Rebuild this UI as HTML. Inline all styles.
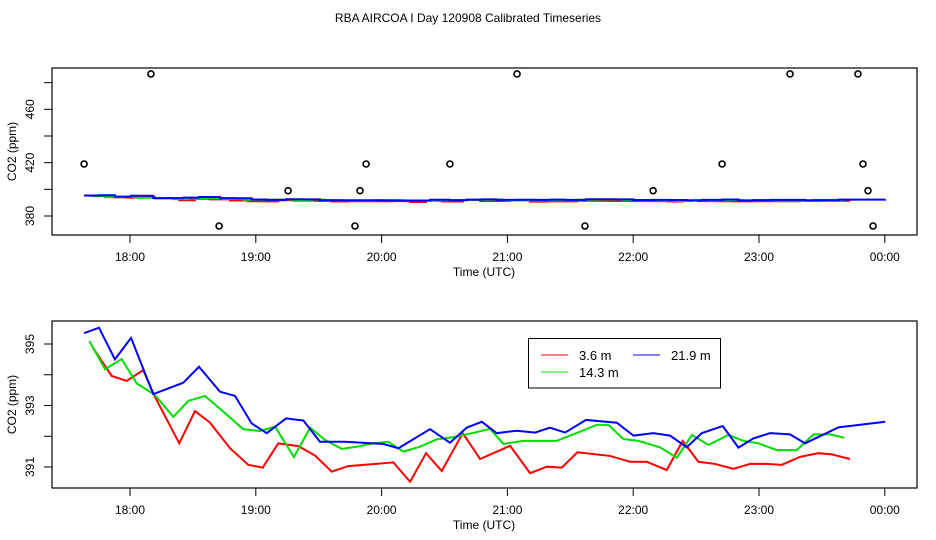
<!DOCTYPE html>
<html><head><meta charset="utf-8"><style>
html,body{margin:0;padding:0;background:#fff;}
svg{display:block;font-family:"Liberation Sans",sans-serif;}
</style></head><body>
<svg id="chart" width="936" height="540" viewBox="0 0 936 540">
<text x="468" y="22" font-size="12" text-anchor="middle">RBA AIRCOA I  Day 120908  Calibrated Timeseries</text>
<g id="top"></g>
<g id="bot"></g>
</svg>
<script>
// minutes after 18:00
const redT=[-17.5,-8.7,-1.6,6.3,11.9,23.5,31.0,38.2,47.7,56.4,63.3,70.7,80.3,88.3,96.2,104.1,125.6,133.6,141.2,148.7,158.7,167.0,181.3,190.8,198.8,205.9,213.4,229.0,238.5,246.5,256.0,263.6,271.1,279.0,287.8,295.7,303.7,310.9,319.6,328.3,334.7,343.4];
const redV=[394.86,393.96,393.80,394.15,393.28,391.77,392.82,392.44,391.61,391.07,390.98,391.77,391.68,391.37,390.85,391.03,391.15,390.52,391.45,390.87,392.10,391.26,391.69,390.80,391.01,390.98,391.48,391.36,391.17,391.17,390.90,391.85,391.17,391.10,390.94,391.10,391.10,391.07,391.33,391.45,391.41,391.26];
const greenT=[-19.4,-11.9,-4.0,3.2,11.9,20.7,27.8,35.8,44.5,54.0,62.0,69.2,78.2,85.9,93.0,101.0,108.1,116.1,123.2,130.4,138.3,146.3,154.2,163.0,171.7,178.1,187.6,203.5,214.7,222.6,228.2,235.3,242.5,252.8,260.8,268.0,275.9,285.4,292.6,299.7,308.5,318.0,326.0,333.9,340.7];
const greenV=[395.10,394.18,394.51,393.72,393.34,392.63,393.15,393.31,392.80,392.23,392.17,392.31,391.32,392.28,391.88,391.59,391.66,391.77,391.82,391.50,391.66,391.90,391.97,392.10,392.24,391.75,391.85,391.85,392.15,392.37,392.37,391.91,391.85,391.64,391.30,392.04,391.72,392.04,391.85,391.77,391.55,391.55,392.06,392.06,391.95];
const blueT=[-21.9,-14.8,-7.2,0.5,11.1,25.4,32.9,42.9,50.1,58.0,65.2,74.4,82.7,90.6,102.6,120.8,128,143.1,152.6,160.6,167.8,174.9,184.5,193.2,200.3,207.5,217.5,232.2,240.1,249.6,257.6,265.5,272.7,282.7,290.2,297.3,305.3,314.8,322,337.9,360.2];
const blueV=[395.35,395.53,394.50,395.20,393.37,393.74,394.26,393.45,393.31,392.42,392.10,392.58,392.51,391.82,391.82,391.75,391.61,392.23,391.79,392.28,392.47,392.10,392.18,392.12,392.28,392.12,392.53,392.44,392.02,392.10,392.02,391.64,392.10,392.33,391.63,391.93,392.10,392.06,391.77,392.29,392.47];
const outT=[-21.9,10,42.5,75.4,107.3,109.7,112.6,152.6,184.6,217,249.5,282.4,314.8,347.2,349.6,352,354.4];
const outV=[419,486.5,372.5,399,372.5,399,419,419,486.5,372.5,399,419,486.5,486.5,419,399,372.5];
const xTicks=[0,60,120,180,240,300,360];
const xLabels=["18:00","19:00","20:00","21:00","22:00","23:00","00:00"];
const topTicks=[380,400,420,440,460,480];
const topLabels=["380","","420","","460",""];
const botTicks=[391,392,393,394,395];
const botLabels=["391","","393","","395"];

const NS="http://www.w3.org/2000/svg";
function mk(tag,attrs,parent){const e=document.createElementNS(NS,tag);for(const k in attrs)e.setAttribute(k,attrs[k]);parent.appendChild(e);return e;}
const X=t=>130+t*125.8/60;
const Ytop=v=>216-(v-380)*26.67/20;
const Ybot=v=>467-(v-391)*30.75;

function panel(g,top,bot,ticks,labels,Y){
  const r=mk('rect',{x:52,y:top,width:865,height:bot-top,fill:'none',stroke:'#000','stroke-width':1.2},g);
  
  
  xTicks.forEach((t,i)=>{
    const l=mk('line',{x1:X(t),x2:X(t),y1:bot,y2:bot+8,stroke:'#000'},g);
    
    
    const tx=mk('text',{x:X(t),y:bot+26,'font-size':12,'text-anchor':'middle'},g);
    tx.textContent=xLabels[i];
    
    
  });
  ticks.forEach((v,i)=>{
    const l=mk('line',{x1:44,x2:52,y1:Y(v),y2:Y(v),stroke:'#000'},g);
    
    
    if(labels[i]){
      const tx=mk('text',{x:0,y:0,'font-size':12,'text-anchor':'middle',transform:`translate(34,${Y(v)}) rotate(-90)`},g);
      tx.textContent=labels[i];
      
      
    }
  });
  const xt=mk('text',{x:484,y:bot+41,'font-size':12,'text-anchor':'middle'},g);
  xt.textContent='Time (UTC)';
  
  
  const yt=mk('text',{x:0,y:0,'font-size':12,'text-anchor':'middle',transform:`translate(16,${(top+bot)/2}) rotate(-90)`},g);
  yt.textContent='CO2 (ppm)';
  
  
}
function line(g,T,V,Y,col,step,name){
  let d='';
  T.forEach((t,i)=>{
    if(i===0)d+=`M${X(t)},${Y(V[i])}`;
    else if(step)d+=`H${X(t)}V${Y(V[i])}`;
    else d+=`L${X(t)},${Y(V[i])}`;
  });
  const p=mk('path',{d:d,fill:'none',stroke:col,'stroke-width':2},g);
  
  
}
const gt=document.getElementById('top'), gb=document.getElementById('bot');
panel(gt,68,235,topTicks,topLabels,Ytop);
line(gt,redT,redV,Ytop,'#f00',true,'top-series-3-6m');
line(gt,greenT,greenV,Ytop,'#0d0',true,'top-series-14-3m');
line(gt,blueT,blueV,Ytop,'#00f',true,'top-series-21-9m');
outT.forEach((t,i)=>{
  const c=mk('circle',{cx:X(t),cy:Ytop(outV[i]),r:3,fill:'none',stroke:'#000','stroke-width':1.6},gt);
  
  
});
panel(gb,321,488,botTicks,botLabels,Ybot);
line(gb,redT,redV,Ybot,'#f00',false,'series-3-6m');
line(gb,greenT,greenV,Ybot,'#0d0',false,'series-14-3m');
line(gb,blueT,blueV,Ybot,'#00f',false,'series-21-9m');
// legend
const lg=mk('g',{},gb);


mk('rect',{x:528.5,y:338.5,width:192,height:49.5,fill:'#fff',stroke:'#000','stroke-width':1},lg);
[[541,355,'#f00','3.6 m','legend-entry-3-6m'],[633,355,'#00f','21.9 m','legend-entry-21-9m'],[541,372,'#0d0','14.3 m','legend-entry-14-3m']].forEach(e=>{
  const eg=mk('g',{},lg);
  
  
  mk('line',{x1:e[0],x2:e[0]+27,y1:e[1],y2:e[1],stroke:e[2],'stroke-width':1},eg);
  const t=mk('text',{x:e[0]+38,y:e[1]+5,'font-size':13},eg);
  t.textContent=e[3];
});
</script>
</body></html>
